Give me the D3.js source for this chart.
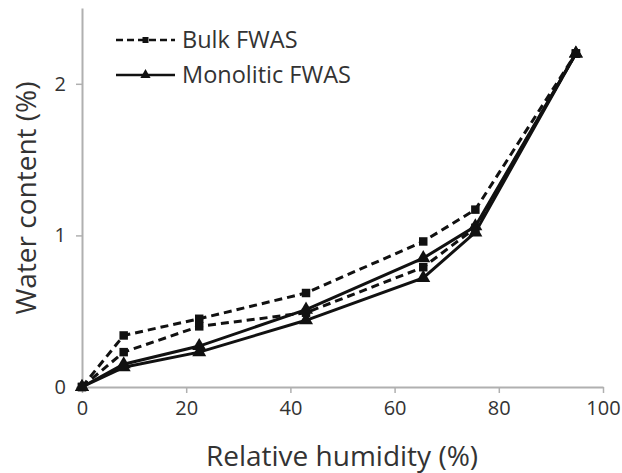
<!DOCTYPE html>
<html><head><meta charset="utf-8">
<script src="https://cdn.jsdelivr.net/npm/d3@7"></script>
<style>body{margin:0;background:#fff}svg{display:block}text{font-family:"Open Sans",sans-serif;fill:#333}</style>
</head><body><svg width="622" height="473"></svg>
<script>
const rh = [0, 8, 22.5, 43, 65.5, 75.5, 94.8];
const bulkUpper = [0, 0.34, 0.45, 0.62, 0.96, 1.17, 2.2];
const bulkLower = [0, 0.23, 0.40, 0.49, 0.79, 1.05, 2.2];
const monoUpper = [0, 0.15, 0.27, 0.51, 0.85, 1.06, 2.2];
const monoLower = [0, 0.13, 0.23, 0.44, 0.72, 1.02, 2.2];
const xTicks = [0, 20, 40, 60, 80, 100];
const yTicks = [0, 1, 2];
const legendLabels = ["Bulk FWAS", "Monolitic FWAS"];

const svg = d3.select("svg");
const x = d3.scaleLinear().domain([0, 100]).range([82, 603]);
const y = d3.scaleLinear().domain([0, 2.5]).range([387, 8]);

const xAxis = svg.append("g").attr("transform", "translate(0,387)")
  .call(d3.axisBottom(x).tickValues(xTicks).tickFormat(d3.format("d")).tickSize(6).tickPadding(8).tickSizeOuter(0));
const yAxis = svg.append("g").attr("transform", "translate(82,0)")
  .call(d3.axisLeft(y).tickValues(yTicks).tickFormat(d3.format("d")).tickSize(6).tickPadding(10).tickSizeOuter(0));
[xAxis, yAxis].forEach(a => {
  a.selectAll(".domain").attr("stroke", "#b0b0b0").attr("stroke-width", 2);
  a.selectAll(".tick line").attr("stroke", "#b0b0b0").attr("stroke-width", 1.5);
  a.selectAll(".tick text").attr("font-size", 20).attr("fill", "#333").attr("font-family", "'Open Sans',sans-serif");
});

svg.append("text").attr("x", 342).attr("y", 466).attr("text-anchor", "middle")
  .attr("font-size", 28).text("Relative humidity (%)");
svg.append("text").attr("transform", "translate(36,198) rotate(-90)").attr("text-anchor", "middle")
  .attr("font-size", 28).text("Water content (%)");

const line = d3.line().x((d, i) => x(rh[i])).y(d => y(d));
const series = [
  {vals: bulkUpper, dash: "8,5", marker: "square"},
  {vals: bulkLower, dash: "8,5", marker: "square"},
  {vals: monoUpper, dash: null, marker: "triangle"},
  {vals: monoLower, dash: null, marker: "triangle"}
];
const sqr = d3.symbol().type(d3.symbolSquare).size(72);
const tri = d3.symbol().type(d3.symbolTriangle).size(85);
series.forEach(s => {
  svg.append("path").datum(s.vals).attr("d", line).attr("fill", "none")
    .attr("stroke", "#111").attr("stroke-width", 3).attr("stroke-dasharray", s.dash);
  svg.append("g").selectAll("path").data(s.vals).join("path")
    .attr("transform", (d, i) => `translate(${x(rh[i])},${y(d)})`)
    .attr("d", s.marker === "square" ? sqr() : tri()).attr("fill", "#111");
});

// legend
const lg = svg.append("g");
[0, 1].forEach(i => {
  const yy = 40 + i * 35;
  lg.append("line").attr("x1", 116).attr("x2", 175).attr("y1", yy).attr("y2", yy)
    .attr("stroke", "#111").attr("stroke-width", 2.5).attr("stroke-dasharray", i === 0 ? "7,4" : null);
  lg.append("path").attr("transform", `translate(145.5,${yy})`)
    .attr("d", (i === 0 ? d3.symbol().type(d3.symbolSquare).size(36) : d3.symbol().type(d3.symbolTriangle).size(45))())
    .attr("fill", "#111");
  lg.append("text").attr("x", 182).attr("y", yy).attr("dy", "0.35em").attr("font-size", 23.5)
    .text(legendLabels[i]);
});
</script></body></html>
